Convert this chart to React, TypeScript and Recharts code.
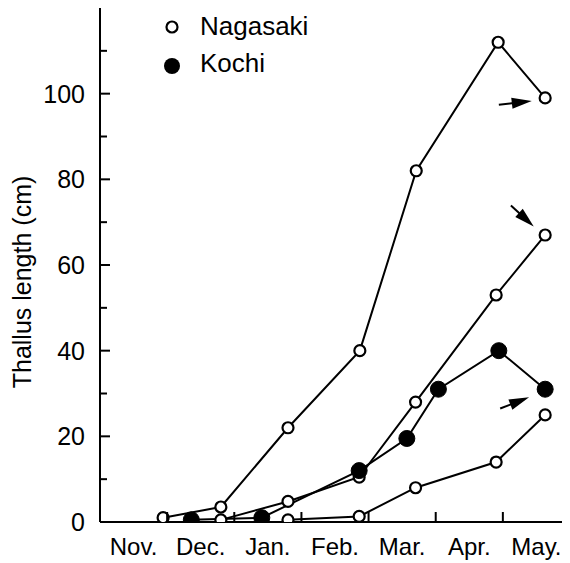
import React from "react";
import { LineChart, Line, XAxis, YAxis, ReferenceLine, Legend } from "recharts";

const FONT = "'Liberation Sans', Arial, Helvetica, sans-serif";

// x positions are months counted from 1 Nov (Nov = 0..1, Dec = 1..2, ...)
const monthLabels = ["Nov.", "Dec.", "Jan.", "Feb.", "Mar.", "Apr.", "May."];
const monthCenters = [0.5, 1.5, 2.5, 3.5, 4.5, 5.5, 6.5];
const monthBounds = [1, 2, 3, 4, 5, 6, 7];
const yTicks = [0, 10, 20, 30, 40, 50, 60, 70, 80, 90, 100, 110];

// Nagasaki, three cohorts (open circles)
const nagasakiATime = [0.94, 1.8, 2.8, 3.87, 4.71, 5.93, 6.63];
const nagasakiALength = [1, 3.5, 22, 40, 82, 112, 99];
const nagasakiBTime = [1.8, 2.8, 3.86, 4.7, 5.9, 6.63];
const nagasakiBLength = [0.5, 4.8, 10.5, 28, 53, 67];
const nagasakiCTime = [2.8, 3.86, 4.7, 5.9, 6.63];
const nagasakiCLength = [0.5, 1.3, 8, 14, 25];

// Kochi (filled circles)
const kochiTime = [1.36, 2.41, 3.86, 4.57, 5.04, 5.94, 6.63];
const kochiLength = [0.5, 1, 12, 19.5, 31, 40, 31];

// arrows next to the May points
const arrowFromTime = [5.94, 6.12, 5.96];
const arrowFromLength = [97.4, 73.9, 26.5];
const arrowToTime = [6.43, 6.46, 6.39];
const arrowToLength = [98.3, 69, 29.1];

const legendNames = ["Nagasaki", "Kochi"];

const rows = (t: number[], v: number[]) => t.map((x, i) => ({ t: x, len: v[i] }));

const openDot = { r: 5.5, fill: "#fff", stroke: "#000", strokeWidth: 2.2 };
const filledDot = { r: 8, fill: "#000", stroke: "#000", strokeWidth: 1 };

function XTick(props: any) {
  const { x, y, payload } = props;
  const idx = monthCenters.indexOf(payload.value);
  if (idx >= 0) {
    return (
      <text x={x} y={y + 16} dy="0.71em" textAnchor="middle" fontSize={24} fontFamily={FONT} fill="#000">
        {monthLabels[idx]}
      </text>
    );
  }
  return <line x1={x} x2={x} y1={y} y2={y - 10} stroke="#000" strokeWidth={2} />;
}

function YTick(props: any) {
  const { x, y, payload } = props;
  const major = payload.value % 20 === 0;
  return (
    <g>
      <line x1={x} x2={x + (major ? 10 : 7)} y1={y} y2={y} stroke="#000" strokeWidth={2} />
      {major && (
        <text x={x - 15} y={y} dy="0.355em" textAnchor="end" fontSize={25} fontFamily={FONT} fill="#000">
          {payload.value}
        </text>
      )}
    </g>
  );
}

function Arrow(props: any) {
  const { x1, y1, x2, y2 } = props;
  const dx = x2 - x1;
  const dy = y2 - y1;
  const l = Math.hypot(dx, dy) || 1;
  const ux = dx / l;
  const uy = dy / l;
  const hl = 20;
  const hw = 5.5;
  const bx = x2 - ux * hl;
  const by = y2 - uy * hl;
  const pts = `${x2},${y2} ${bx - uy * hw},${by + ux * hw} ${bx + uy * hw},${by - ux * hw}`;
  return (
    <g>
      <line x1={x1} y1={y1} x2={bx + ux * 2} y2={by + uy * 2} stroke="#000" strokeWidth={2} />
      <polygon points={pts} fill="#000" />
    </g>
  );
}

function LegendBox() {
  return (
    <svg width={200} height={80}>
      {legendNames.map((name, i) => (
        <g key={name}>
          {i === 0 ? (
            <circle cx={14} cy={19 + i * 39} r={5.5} fill="#fff" stroke="#000" strokeWidth={2.2} />
          ) : (
            <circle cx={14} cy={19 + i * 39} r={8} fill="#000" />
          )}
          <text x={42} y={27 + i * 37} fontSize={26} fontFamily={FONT} fill="#000">
            {name}
          </text>
        </g>
      ))}
    </svg>
  );
}

export default function App() {
  return (
    <div style={{ width: 562, height: 555 }}>
      <LineChart width={562} height={555} margin={{ top: 0, right: 0, bottom: 0, left: 0 }}>
        <XAxis
          type="number"
          dataKey="t"
          domain={[0, 7]}
          ticks={[...monthCenters, ...monthBounds].sort((a, b) => a - b)}
          interval={0}
          height={41}
          tickSize={0}
          tickMargin={0}
          tickLine={false}
          axisLine={{ stroke: "#000", strokeWidth: 2 }}
          tick={<XTick />}
          allowDataOverflow
        />
        <YAxis
          type="number"
          domain={[0, 120]}
          ticks={yTicks}
          interval={0}
          width={92}
          tickSize={0}
          tickMargin={0}
          tickLine={false}
          axisLine={{ stroke: "#000", strokeWidth: 2 }}
          tick={<YTick />}
          allowDataOverflow
          label={{
            content: () => (
              <text
                x={23}
                y={274}
                transform="rotate(-90 23 274)"
                textAnchor="middle"
                fontSize={25}
                fontFamily={FONT}
                fill="#000"
              >
                Thallus length (cm)
              </text>
            ),
          }}
        />
        <Legend
          layout="vertical"
          align="center"
          verticalAlign="middle"
          wrapperStyle={{ position: "absolute", left: 150, top: 0, width: 200 }}
          content={() => <LegendBox />}
        />
        <Line data={rows(nagasakiATime, nagasakiALength)} dataKey="len" stroke="#000" strokeWidth={2} dot={openDot} isAnimationActive={false} />
        <Line data={rows(nagasakiBTime, nagasakiBLength)} dataKey="len" stroke="#000" strokeWidth={2} dot={openDot} isAnimationActive={false} />
        <Line data={rows(nagasakiCTime, nagasakiCLength)} dataKey="len" stroke="#000" strokeWidth={2} dot={openDot} isAnimationActive={false} />
        <Line data={rows(kochiTime, kochiLength)} dataKey="len" stroke="#000" strokeWidth={2} dot={filledDot} isAnimationActive={false} />
        {arrowFromTime.map((t, i) => (
          <ReferenceLine
            key={i}
            segment={[
              { x: t, y: arrowFromLength[i] },
              { x: arrowToTime[i], y: arrowToLength[i] },
            ]}
            shape={<Arrow />}
          />
        ))}
      </LineChart>
    </div>
  );
}
